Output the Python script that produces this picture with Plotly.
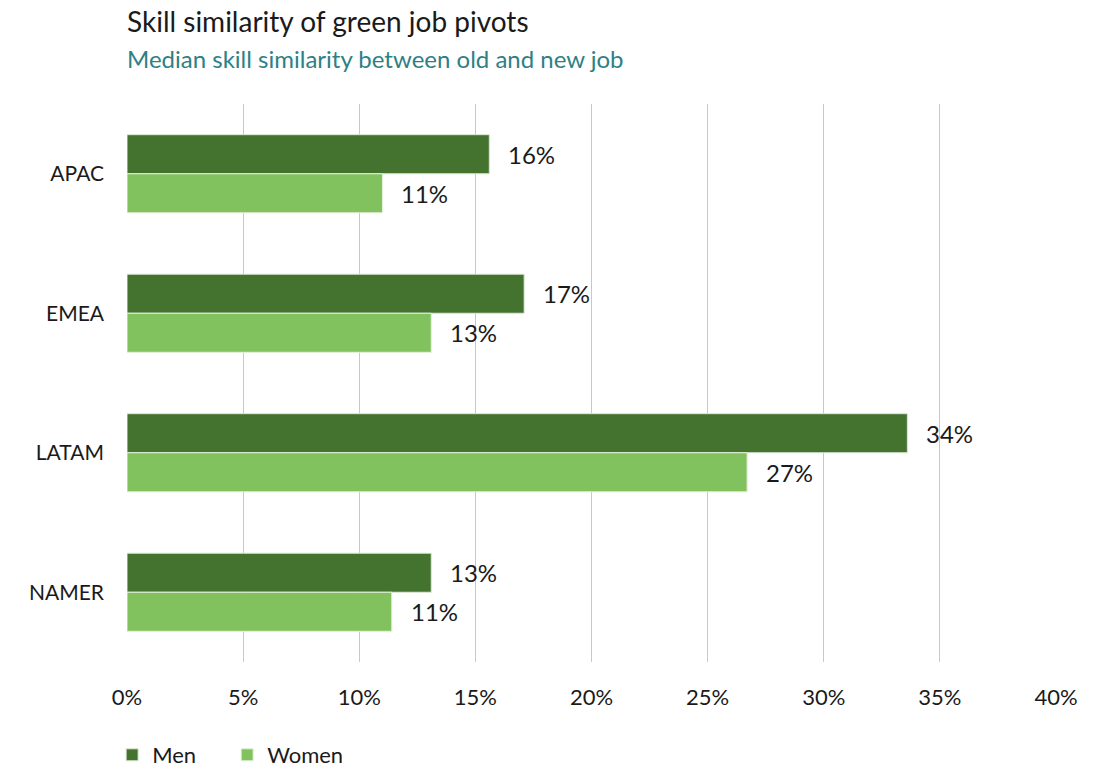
import plotly.graph_objects as go

regions = ["APAC", "EMEA", "LATAM", "NAMER"]
men = [0.156, 0.171, 0.336, 0.131]
women = [0.110, 0.131, 0.267, 0.114]
x_ticks = [0, 0.05, 0.10, 0.15, 0.20, 0.25, 0.30, 0.35, 0.40]

DARK = "#43732F"
LIGHT = "#82C25E"
FONT = "Lato, 'Open Sans', sans-serif"
BARGAP = 0.44

fig = go.Figure()
fig.add_trace(go.Bar(name="Men", y=regions, x=men, orientation="h",
                     marker=dict(color=DARK, line=dict(color="#DDE8D6", width=1))))
fig.add_trace(go.Bar(name="Women", y=regions, x=women, orientation="h",
                     marker=dict(color=LIGHT, line=dict(color="#E3F0DB", width=1))))

# value labels beside each bar end, centred on each bar
half = (1 - BARGAP) / 4
for i, r in enumerate(regions):
    for v, off in ((men[i], -half), (women[i], half)):
        fig.add_annotation(x=v, y=i + off, xref="x", yref="y",
                           text=f"{round(v * 100):.0f}%", showarrow=False,
                           xanchor="left", xshift=17,
                           font=dict(family=FONT, size=24, color="#1a1a1a"))

T, B = 104, 662
H = B - T


def py(px):
    return (B - px) / H


fig.add_annotation(text="Skill similarity of green job pivots", xref="paper", yref="paper",
                   x=0, y=py(21), xanchor="left", yanchor="middle", showarrow=False,
                   xshift=-2, font=dict(family=FONT, size=28, color="#1a1a1a"))
fig.add_annotation(text="Median skill similarity between old and new job", xref="paper", yref="paper",
                   x=0, y=py(58), xanchor="left", yanchor="middle", showarrow=False,
                   xshift=-2, font=dict(family=FONT, size=24, color="#2E8085"))

fig.update_layout(
    width=1102, height=768,
    margin=dict(l=127, r=46, t=T, b=768 - B, autoexpand=False),
    paper_bgcolor="white", plot_bgcolor="white",
    barmode="group", bargap=BARGAP, bargroupgap=0,
    font=dict(family=FONT, size=21, color="#1a1a1a"),
    xaxis=dict(range=[0, 0.40], tickvals=x_ticks, tickformat=".0%",
               showgrid=True, gridcolor="#C8C8C8", gridwidth=1,
               zeroline=False, showline=False, ticks="", automargin=False,
               tickfont=dict(size=22), ticklabelstandoff=20),
    yaxis=dict(categoryorder="array", categoryarray=regions, autorange="reversed",
               showgrid=False, zeroline=False, showline=False, ticks="", automargin=False,
               ticklabelstandoff=22, tickfont=dict(size=21)),
    legend=dict(orientation="h", x=-0.016, xanchor="left", y=py(755), yanchor="middle",
                font=dict(size=22), traceorder="normal",
                entrywidth=70, entrywidthmode="pixels", itemwidth=30),
    showlegend=True,
)

fig.write_html("out.html")
